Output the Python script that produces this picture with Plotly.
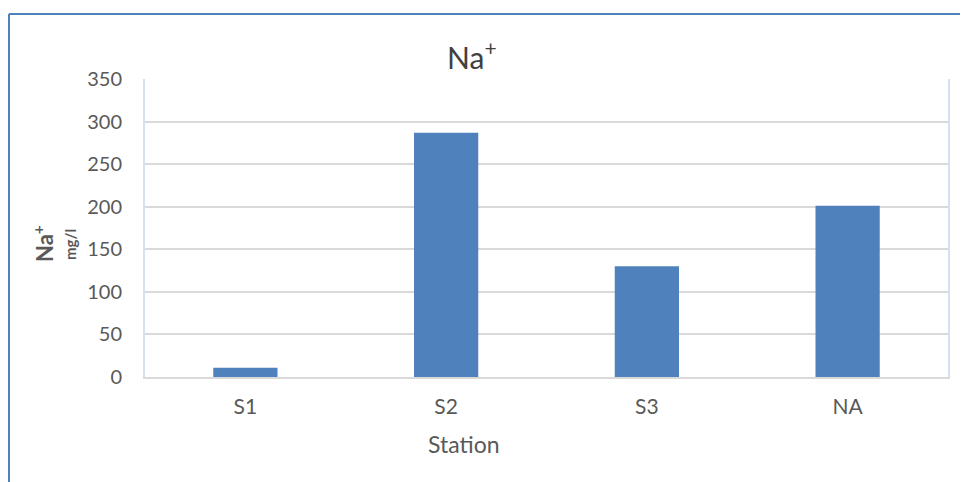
import plotly.graph_objects as go

stations = ["S1", "S2", "S3", "NA"]
na_values = [11, 287, 130, 201]
y_ticks = [0, 50, 100, 150, 200, 250, 300, 350]

# page has an 8px body margin; work in reference pixel coords and shift
OFF = 8
W, H = 968 - OFF, 482 - OFF
PL, PR, PT, PB = 145, 948, 79, 377  # plot area in reference pixels
L, R, T, B = PL - OFF, (W + OFF) - PR, PT - OFF, (H + OFF) - PB
pw, ph = PR - PL, PB - PT

def px2x(px):
    return (px - PL) / pw

def px2y(py):
    return (PB - py) / ph

fig = go.Figure()
fig.add_trace(go.Bar(
    x=stations, y=na_values,
    marker=dict(color="#4f81bd", line=dict(color="#4f81bd", width=0)),
    width=0.32,
))

font_fam = "Lato, 'Open Sans', sans-serif"
fig.update_layout(
    width=W, height=H,
    margin=dict(l=L, r=R, t=T, b=B),
    paper_bgcolor="white", plot_bgcolor="white",
    showlegend=False,
    font=dict(family=font_fam, color="#595959"),
    xaxis=dict(
        showgrid=False, showline=True, linecolor="#d9d9d9", linewidth=2,
        tickfont=dict(size=21, color="#595959"), ticks="", ticklabelstandoff=10,
    ),
    yaxis=dict(
        range=[0, 350], tickvals=y_ticks, showgrid=True, gridcolor="#d9d9d9", gridwidth=1.5,
        zeroline=False, showline=True, linecolor="#d6e0f0", linewidth=2, mirror=True,
        tickfont=dict(size=20, color="#595959"), ticks="", ticklabelstandoff=17,
    ),
)

def ann(text, x, y, size, color="#595959", angle=0):
    fig.add_annotation(text=text, xref="paper", yref="paper",
                       x=px2x(x), y=px2y(y), xanchor="center", yanchor="middle",
                       textangle=angle, showarrow=False,
                       font=dict(size=size, color=color, family=font_fam))

# title
ann("Na<sup>+</sup>", 472, 55, 30, "#404040")
# x-axis title
ann("Station", 464, 444, 23)
# y-axis title: Na+ with mg/l beside
ann("<b>Na<sup>+</sup></b>", 44, 244, 22, angle=-90)
ann("<b>mg/l</b>", 70, 245, 15, angle=-90)

# outer chart border (blue)
fig.add_shape(type="line", xref="paper", yref="paper",
              x0=px2x(9), x1=px2x(975), y0=px2y(14), y1=px2y(14),
              line=dict(color="#4f81bd", width=2))
fig.add_shape(type="line", xref="paper", yref="paper",
              x0=px2x(9), x1=px2x(9), y0=px2y(14), y1=px2y(490),
              line=dict(color="#4f81bd", width=2))

fig.write_html("out.html")
